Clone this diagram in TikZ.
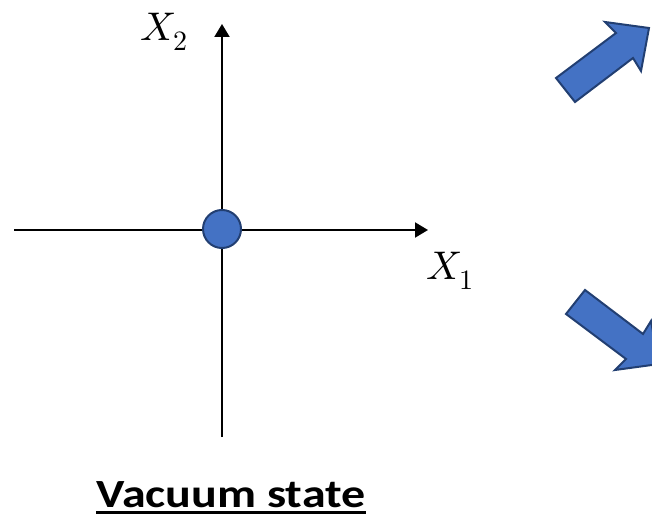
\documentclass[tikz,border=0pt]{standalone}
\usepackage{fontspec}
\usepackage{unicode-math}
\setmathfont{Latin Modern Math}
\newfontfamily\carlito{Carlito}
\usetikzlibrary{arrows.meta}
\definecolor{accblue}{HTML}{4472C4}
\definecolor{edgeblue}{HTML}{223F72}
\tikzset{
  axis/.style={line width=2pt,-{Triangle[length=13pt,width=15pt]}},
  blockarrow/.style={fill=accblue,draw=edgeblue,line width=2pt,line join=miter},
  axlabel/.style={inner sep=0pt,font=\fontsize{40}{44}\selectfont}
}
\begin{document}
\begin{tikzpicture}[x=1pt,y=-1pt]
\useasboundingbox (0,0) rectangle (652,518);
\clip (0,0) rectangle (652,518);
% axes
\coordinate (xl) at (14,230);
\coordinate (xr) at (428,230);
\coordinate (yb) at (222,437);
\coordinate (yt) at (222,24);
\draw[axis] (xl) -- (xr);
\draw[axis] (yb) -- (yt);
\node[circle,minimum size=38pt,inner sep=0pt,fill=accblue,draw=edgeblue,line width=2pt] (vac) at (222,229) {};
\node[axlabel] (x2) at (164,32) {$X_2$};
\node[axlabel] (x1) at (450,271) {$X_1$};
% title
\node[inner sep=0pt,anchor=base,font=\carlito\bfseries\fontsize{40}{44}\selectfont] (title) at (231,507) {\scalebox{1.2}[1]{Vacuum state}};
\draw[line width=3pt] ([yshift=-5pt]title.base west) -- ([yshift=-5pt]title.base east);
% block arrows
\draw[blockarrow] (556,78) -- (616,33) -- (605,22) -- (649,28) -- (641,71) -- (633,58) -- (575,102) -- cycle;
\draw[blockarrow] (566,314) -- (626,359) -- (615,370) -- (659,364) -- (651,321) -- (643,334) -- (585,290) -- cycle;
\end{tikzpicture}
\end{document}
